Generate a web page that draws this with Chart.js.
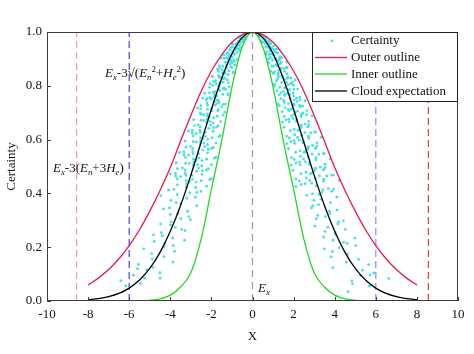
<!DOCTYPE html>
<html>
<head>
<meta charset="utf-8">
<script src="https://cdn.jsdelivr.net/npm/chart.js@4.4.0/dist/chart.umd.min.js"></script>
<style>
html,body{margin:0;padding:0;background:#ffffff;}
#wrap{width:474px;height:354px;position:relative;}
</style>
</head>
<body>
<div id="wrap"><canvas id="c" width="474" height="354"></canvas></div>
<script>
// ---------------- data ----------------
const curveX = [-8,-7.5,-7,-6.5,-6,-5.5,-5,-4.5,-4,-3.5,-3,-2.5,-2,-1.5,-1,-0.5,0,0.5,1,1.5,2,2.5,3,3.5,4,4.5,5,5.5,6,6.5,7,7.5,8];
const outerY = [0.060,0.085,0.117,0.157,0.206,0.265,0.334,0.411,0.496,0.595,0.690,0.780,0.855,0.915,0.962,0.990,1,0.990,0.962,0.915,0.855,0.780,0.690,0.595,0.496,0.411,0.334,0.265,0.206,0.157,0.117,0.085,0.060];
const innerY = [0,0,0,0,0.0002,0.0008,0.0027,0.008,0.022,0.052,0.105,0.230,0.415,0.595,0.795,0.945,1,0.945,0.795,0.595,0.415,0.230,0.105,0.052,0.022,0.008,0.0027,0.0008,0.0002,0,0,0,0];
const expectY = [0.005,0.009,0.016,0.028,0.048,0.078,0.121,0.181,0.259,0.355,0.468,0.590,0.713,0.827,0.919,0.979,1,0.979,0.919,0.827,0.713,0.590,0.468,0.355,0.259,0.181,0.121,0.078,0.048,0.028,0.016,0.009,0.005];

// cloud drops (x, certainty), left half
const certaintyLeft = [
[-0.342,0.983],[-0.583,0.976],[-0.422,0.981],[-0.623,0.978],[-0.492,0.984],[-0.372,0.975],[-0.543,0.982],
[-0.644,0.963],[-0.944,0.956],[-0.572,0.961],[-0.744,0.958],[-0.458,0.964],[-0.801,0.955],[-0.672,0.962],
[-1.056,0.943],[-0.686,0.936],[-0.880,0.941],[-0.757,0.938],[-1.003,0.944],[-0.845,0.935],[-0.598,0.942],
[-1.183,0.923],[-0.857,0.916],[-1.265,0.921],[-1.000,0.918],[-0.755,0.924],[-1.102,0.915],[-0.918,0.922],
[-1.515,0.903],[-0.918,0.896],[-1.193,0.901],[-0.734,0.898],[-1.285,0.904],[-1.079,0.895],[-1.377,0.902],
[-0.987,0.886],[-1.265,0.876],[-1.088,0.882],[-1.442,0.872],[-1.214,0.888],[-0.860,0.878],
[-1.592,0.866],[-1.153,0.856],[-1.702,0.862],[-1.345,0.852],[-1.016,0.868],[-1.482,0.858],
[-1.330,0.846],[-1.950,0.836],[-1.182,0.842],[-1.537,0.832],[-0.946,0.848],[-1.655,0.838],
[-1.481,0.826],[-1.890,0.816],[-1.229,0.822],[-1.575,0.812],[-1.355,0.828],[-1.796,0.818],
[-1.603,0.806],[-1.136,0.796],[-1.937,0.802],[-1.403,0.792],[-2.071,0.808],[-1.637,0.798],
[-1.304,0.786],[-1.904,0.776],[-1.586,0.782],[-2.327,0.772],[-1.410,0.788],[-1.833,0.778],
[-1.186,0.766],[-2.075,0.756],[-1.741,0.762],[-2.223,0.752],[-1.445,0.768],[-1.853,0.758],
[-1.668,0.746],[-2.212,0.736],[-1.862,0.742],[-1.319,0.732],[-2.250,0.748],[-1.630,0.738],
[-2.514,0.726],[-1.987,0.716],[-1.500,0.722],[-2.190,0.712],[-1.825,0.728],[-2.676,0.718],
[-1.690,0.706],[-2.197,0.696],[-1.352,0.702],[-2.366,0.692],[-1.986,0.708],[-2.535,0.698],
[-1.712,0.687],[-2.195,0.675],[-1.888,0.682],[-2.502,0.672],[-2.107,0.684],
[-1.550,0.667],[-2.645,0.655],[-1.915,0.662],[-2.827,0.652],[-2.234,0.664],
[-1.748,0.647],[-2.552,0.635],[-2.126,0.642],[-3.119,0.632],[-1.890,0.644],
[-2.543,0.627],[-1.565,0.615],[-2.738,0.622],[-2.298,0.612],[-2.934,0.624],
[-1.971,0.607],[-2.528,0.595],[-2.174,0.602],[-2.881,0.592],[-2.426,0.604],
[-1.775,0.587],[-3.028,0.575],[-2.192,0.582],[-3.236,0.572],[-2.558,0.584],
[-1.992,0.567],[-2.908,0.555],[-2.423,0.562],[-3.554,0.552],[-2.154,0.564],
[-2.886,0.547],[-1.776,0.535],[-3.108,0.542],[-2.609,0.532],[-3.330,0.544],
[-2.231,0.527],[-2.860,0.515],[-2.460,0.522],[-3.260,0.512],[-2.746,0.524],
[-2.001,0.507],[-3.413,0.495],[-2.472,0.502],[-3.649,0.492],[-2.884,0.504],
[-2.242,0.487],[-3.272,0.475],[-2.727,0.482],[-4.000,0.472],[-2.424,0.484],
[-3.240,0.467],[-1.994,0.455],[-3.489,0.462],[-2.928,0.452],[-3.738,0.464],
[-2.498,0.447],[-3.203,0.435],[-2.754,0.442],[-3.651,0.432],[-3.074,0.444],
[-2.239,0.427],[-3.819,0.415],[-2.766,0.422],[-4.083,0.412],[-3.227,0.424],
[-2.505,0.407],[-3.656,0.395],[-3.047,0.402],[-4.468,0.392],[-2.708,0.404],
[-2.782,0.386],[-3.964,0.374],[-3.199,0.382],
[-3.715,0.366],[-2.715,0.354],[-3.501,0.362],
[-4.040,0.346],[-3.158,0.334],[-4.334,0.342],
[-3.624,0.326],[-3.096,0.314],[-4.002,0.322],
[-3.492,0.306],[-3.958,0.294],[-3.026,0.302],
[-4.469,0.286],[-3.751,0.274],[-3.990,0.282],
[-3.446,0.266],[-4.431,0.254],[-3.282,0.262],
[-4.814,0.246],[-3.885,0.234],[-4.391,0.242],
[-3.306,0.226],[-4.263,0.214],[-4.785,0.222],
[-3.857,0.206],[-5.292,0.194],[-4.306,0.202],
[-3.797,0.185],[-4.908,0.176],
[-4.307,0.165],[-4.881,0.156],
[-3.867,0.145],[-5.552,0.136],
[-4.839,0.125],[-5.148,0.116],
[-4.507,0.105],[-5.794,0.096],
[-4.496,0.085],[-6.407,0.076],
[-5.456,0.065],[-6.167,0.056],
[-5.600,0.120],[-5.250,0.085]
];

const certaintyLeftMid = [
[-0.543,0.974],[-0.679,0.967],[-0.445,0.971],
[-0.976,0.954],[-0.768,0.947],[-0.640,0.951],
[-1.105,0.934],[-0.972,0.927],[-0.629,0.931],
[-1.389,0.914],[-0.998,0.907],[-1.150,0.911],
[-1.063,0.894],[-1.328,0.887],[-0.869,0.891],
[-1.610,0.874],[-1.267,0.867],[-1.056,0.871],
[-1.653,0.854],[-1.454,0.847],[-0.941,0.851],
[-1.952,0.834],[-1.403,0.827],[-1.617,0.831],
[-1.428,0.814],[-1.785,0.807],[-1.168,0.811],
[-2.095,0.794],[-1.649,0.787],[-1.374,0.791],
[-2.097,0.774],[-1.844,0.767],[-1.193,0.771],
[-2.429,0.754],[-1.746,0.747],[-2.011,0.751],
[-1.745,0.734],[-2.181,0.727],[-1.427,0.731],
[-2.525,0.714],[-1.987,0.707],[-1.656,0.711],
[-2.497,0.694],[-2.196,0.687],[-1.421,0.691],
[-2.864,0.674],[-2.059,0.667],[-2.372,0.671],
[-2.042,0.654],[-2.552,0.647],[-1.670,0.651],
[-2.931,0.634],[-2.306,0.627],[-1.922,0.631],
[-2.883,0.614],[-2.535,0.607],[-1.640,0.611],
[-3.286,0.594],[-2.362,0.587],[-2.722,0.591],
[-2.332,0.574],[-2.915,0.567],[-1.908,0.571],
[-3.334,0.554],[-2.623,0.547],[-2.186,0.551],
[-3.268,0.534],[-2.874,0.527],[-1.860,0.531],
[-3.712,0.514],[-2.668,0.507],[-3.074,0.511],
[-2.627,0.494],[-3.284,0.487],[-2.149,0.491],
[-3.748,0.474],[-2.950,0.467],[-2.458,0.471],
[-3.666,0.454],[-3.223,0.447],[-2.086,0.451]
];

// cloud drops (x, certainty), right half
const certaintyRight = [
[0.523,0.977],[0.322,0.984],[0.563,0.979],[0.472,0.982],[0.603,0.976],[0.392,0.985],[0.503,0.978],
[0.615,0.957],[0.815,0.964],[0.686,0.959],[0.486,0.962],[0.829,0.956],[0.601,0.965],[0.887,0.958],
[0.862,0.937],[0.651,0.944],[0.950,0.939],[0.792,0.942],[1.162,0.936],[0.704,0.945],[0.915,0.938],
[0.653,0.917],[1.142,0.924],[0.959,0.919],[1.224,0.922],[0.796,0.916],[1.020,0.925],[0.877,0.918],
[1.308,0.897],[1.102,0.904],[0.780,0.899],[1.331,0.902],[0.964,0.896],[1.423,0.905],[1.125,0.898],
[0.936,0.874],[1.366,0.884],[1.139,0.878],[1.670,0.888],[1.012,0.872],[1.316,0.882],
[0.878,0.854],[1.537,0.864],[1.290,0.858],[1.647,0.868],[1.071,0.852],[1.373,0.862],
[1.271,0.834],[1.684,0.844],[1.418,0.838],[1.005,0.848],[1.714,0.832],[1.241,0.842],
[1.953,0.814],[1.544,0.824],[1.166,0.818],[1.701,0.828],[1.418,0.812],[2.079,0.822],
[1.336,0.794],[1.737,0.804],[1.069,0.798],[1.870,0.808],[1.570,0.792],[2.004,0.802],
[1.375,0.774],[1.763,0.784],[1.516,0.778],[2.009,0.788],[1.692,0.772],[1.199,0.782],
[2.149,0.754],[1.556,0.764],[2.297,0.758],[1.815,0.768],[1.371,0.752],[2.001,0.762],
[1.746,0.734],[2.561,0.744],[1.552,0.738],[2.018,0.748],[1.242,0.732],[2.173,0.742],
[1.906,0.714],[2.433,0.724],[1.581,0.718],[2.028,0.728],[1.744,0.712],[2.311,0.722],
[2.028,0.694],[1.437,0.704],[2.451,0.698],[1.775,0.708],[2.620,0.692],[2.070,0.702],
[1.624,0.673],[2.371,0.685],[1.976,0.678],[2.897,0.688],[1.756,0.676],
[2.371,0.653],[1.459,0.665],[2.554,0.658],[2.143,0.668],[2.736,0.656],
[1.843,0.633],[2.363,0.645],[2.032,0.638],[2.693,0.648],[2.268,0.636],
[1.663,0.613],[2.836,0.625],[2.054,0.618],[3.032,0.628],[2.396,0.616],
[1.870,0.593],[2.730,0.605],[2.275,0.598],[3.336,0.608],[2.022,0.596],
[2.714,0.573],[1.670,0.585],[2.923,0.578],[2.453,0.588],[3.132,0.576],
[2.100,0.553],[2.693,0.565],[2.316,0.558],[3.069,0.568],[2.585,0.556],
[1.887,0.533],[3.219,0.545],[2.331,0.538],[3.441,0.548],[2.720,0.536],
[2.116,0.513],[3.089,0.525],[2.574,0.518],[3.775,0.528],[2.288,0.516],
[3.060,0.493],[1.883,0.505],[3.296,0.498],[2.766,0.508],[3.531,0.496],
[2.363,0.473],[3.030,0.485],[2.606,0.478],[3.454,0.488],[2.909,0.476],
[2.118,0.453],[3.613,0.465],[2.617,0.458],[3.863,0.468],[3.053,0.456],
[2.370,0.433],[3.459,0.445],[2.882,0.438],[4.227,0.448],[2.562,0.436],
[3.424,0.413],[2.107,0.425],[3.688,0.418],[3.095,0.428],[3.951,0.416],
[2.640,0.393],[3.385,0.405],[2.911,0.398],[3.859,0.408],[3.250,0.396],
[2.991,0.374],[4.103,0.386],[3.338,0.378],
[2.929,0.354],[3.787,0.366],[3.215,0.358],
[3.746,0.334],[2.865,0.346],[4.113,0.338],
[3.549,0.314],[3.775,0.326],[3.171,0.318],
[4.190,0.294],[3.104,0.306],[4.423,0.298],
[3.671,0.274],[4.150,0.286],[3.032,0.278],
[4.020,0.254],[4.513,0.266],[3.528,0.258],
[4.983,0.234],[4.054,0.246],[3.462,0.238],
[4.611,0.214],[3.915,0.226],[4.437,0.218],
[3.498,0.194],[5.023,0.206],[4.216,0.198],
[4.630,0.175],[3.889,0.184],
[5.168,0.155],[3.828,0.164],
[5.652,0.135],[4.561,0.144],
[5.353,0.115],[3.912,0.124],
[5.258,0.095],[5.902,0.104],
[4.833,0.075],[6.632,0.084],
[5.693,0.055],[4.863,0.064],
[4.650,0.035],[5.720,0.097]
];

const certaintyRightMid = [
[0.716,0.968],[0.630,0.973],[0.408,0.966],
[1.024,0.948],[0.736,0.953],[0.848,0.946],
[0.838,0.928],[1.048,0.933],[0.686,0.926],
[1.324,0.908],[1.042,0.913],[0.868,0.906],
[1.401,0.888],[1.232,0.893],[0.797,0.886],
[1.690,0.868],[1.214,0.873],[1.399,0.866],
[1.254,0.848],[1.568,0.853],[1.026,0.846],
[1.861,0.828],[1.464,0.833],[1.220,0.826],
[1.882,0.808],[1.655,0.813],[1.071,0.806],
[2.198,0.788],[1.580,0.793],[1.821,0.786],
[1.591,0.768],[1.988,0.773],[1.301,0.766],
[2.315,0.748],[1.822,0.753],[1.518,0.746],
[2.300,0.728],[2.022,0.733],[1.308,0.726],
[2.650,0.708],[1.904,0.713],[2.194,0.706],
[1.894,0.688],[2.368,0.693],[1.550,0.686],
[2.730,0.668],[2.148,0.673],[1.790,0.666],
[2.691,0.648],[2.366,0.653],[1.531,0.646],
[3.075,0.628],[2.210,0.633],[2.547,0.626],
[2.187,0.608],[2.734,0.613],[1.789,0.606],
[3.132,0.588],[2.465,0.593],[2.054,0.586],
[3.074,0.568],[2.703,0.573],[1.749,0.566],
[3.498,0.548],[2.514,0.553],[2.896,0.546],
[2.479,0.528],[3.099,0.533],[2.029,0.526],
[3.538,0.508],[2.784,0.513],[2.320,0.506],
[3.463,0.488],[3.045,0.493],[1.970,0.486],
[3.933,0.468],[2.827,0.473],[3.257,0.466],
[2.781,0.448],[3.476,0.453],[2.275,0.446]
];

const boundOuterX = [-8.56, 8.56];   // Ex ± 3(En+3He)
const boundInnerX = [-6, 6];         // Ex ± 3√(En²+He²)
const expectationX = 0;              // Ex
const xTicks = [-10,-8,-6,-4,-2,0,2,4,6,8,10];
const yTicks = [0,0.2,0.4,0.6,0.8,1.0];
const seriesNames = ['Certainty','Outer outline','Inner outline','Cloud expectation'];

// ---------------- build ----------------
const SERIF = '"Liberation Serif", "Times New Roman", serif';
const CYAN = '#45e0e6', RED = '#e8194b', GREEN = '#22d622', BLACK = '#000000';

function toPts(xs, ys){ return xs.map((x,i)=>({x:x, y:ys[i]})); }
function vLine(xv){ return [{x:xv,y:0},{x:xv,y:1}]; }
function pairPts(arr){ return arr.map(p=>({x:p[0], y:p[1]})); }

const lineBase = {showLine:true, pointRadius:0, borderWidth:1.3, fill:false, cubicInterpolationMode:'monotone'};
const guideBase = {showLine:true, pointRadius:0, borderWidth:1.2, fill:false, order:20};
const allDrops = certaintyLeft.concat(certaintyLeftMid, certaintyRight, certaintyRightMid);

const datasets = [
  Object.assign({label:seriesNames[3], data:toPts(curveX, expectY), borderColor:BLACK, order:1}, lineBase),
  Object.assign({label:seriesNames[1], data:toPts(curveX, outerY), borderColor:RED, order:2}, lineBase),
  Object.assign({label:seriesNames[2], data:toPts(curveX, innerY), borderColor:GREEN, order:3}, lineBase),
  {label:seriesNames[0], data:pairPts(allDrops), showLine:false,
   pointRadius:1.4, pointBorderWidth:0, backgroundColor:CYAN, borderColor:CYAN, order:10},
  Object.assign({label:'g1', data:vLine(boundOuterX[0]), borderColor:'#f39a9a', borderDash:[7,4]}, guideBase),
  Object.assign({label:'g2', data:vLine(boundOuterX[1]), borderColor:'#e83a3a', borderDash:[7,4]}, guideBase),
  Object.assign({label:'g3', data:vLine(boundInnerX[0]), borderColor:'#4444dd', borderDash:[7,4]}, guideBase),
  Object.assign({label:'g4', data:vLine(boundInnerX[1]), borderColor:'#8c8cee', borderDash:[7,4]}, guideBase),
  Object.assign({label:'g5', data:vLine(expectationX), borderColor:'#9a9a9a', borderDash:[7,5]}, guideBase)
];

function drawRich(ctx, parts, x, baseline, size){
  let cx = x;
  parts.forEach(p=>{
    const [txt, kind, ital] = p;
    let fs = size, dy = 0;
    if (kind==='sub'){ fs = size*0.68; dy = size*0.22; }
    if (kind==='sup'){ fs = size*0.68; dy = -size*0.38; }
    ctx.font = (ital?'italic ':'') + fs + 'px ' + SERIF;
    ctx.fillText(txt, cx, baseline+dy);
    cx += ctx.measureText(txt).width;
  });
}

const decor = {
  id:'decor',
  afterDraw(chart){
    const ctx = chart.ctx, a = chart.chartArea, xs = chart.scales.x, ys = chart.scales.y;
    ctx.save();
    ctx.strokeStyle = '#3c3c3c'; ctx.lineWidth = 1; ctx.setLineDash([]);
    ctx.strokeRect(Math.round(a.left)+0.5, Math.round(a.top)+0.5, Math.round(a.right-a.left)-1, Math.round(a.bottom-a.top)-1);
    ctx.beginPath();
    xTicks.forEach(v=>{ const px = Math.round(xs.getPixelForValue(v))+0.5; ctx.moveTo(px, a.bottom); ctx.lineTo(px, a.bottom-4); });
    yTicks.forEach(v=>{ const py = Math.round(ys.getPixelForValue(v))+0.5; ctx.moveTo(a.left, py); ctx.lineTo(a.left+4, py); });
    ctx.stroke();

    ctx.fillStyle = '#111';
    ctx.font = '13px ' + SERIF;
    ctx.textAlign = 'center'; ctx.textBaseline = 'middle';
    ctx.fillText('X', (a.left+a.right)/2, 337);
    ctx.save();
    ctx.translate(12, (a.top+a.bottom)/2);
    ctx.rotate(-Math.PI/2);
    ctx.fillText('Certainty', 0, 0);
    ctx.restore();

    ctx.textAlign = 'left'; ctx.textBaseline = 'alphabetic';
    drawRich(ctx, [['E','n',true],['x','sub',true],['-3√(','n',false],['E','n',true],['n','sub',true],['2','sup',false],['+','n',false],['H','n',true],['e','sub',true],['2','sup',false],[')','n',false]], 105, 77, 13);
    drawRich(ctx, [['E','n',true],['x','sub',true],['-3(','n',false],['E','n',true],['n','sub',true],['+3','n',false],['H','n',true],['e','sub',true],[')','n',false]], 53, 172, 13);
    drawRich(ctx, [['E','n',true],['x','sub',true]], 258, 292, 13);

    const lx = 312, ly = Math.round(a.top), lw = Math.round(a.right) - lx, lh = 70;
    ctx.fillStyle = '#ffffff';
    ctx.fillRect(lx, ly, lw, lh);
    ctx.strokeStyle = '#222'; ctx.lineWidth = 1;
    ctx.strokeRect(lx+0.5, ly+0.5, lw-1, lh-1);
    const rows = [40, 57.5, 74, 91];
    const cols = [CYAN, RED, GREEN, BLACK];
    ctx.font = '13px ' + SERIF; ctx.textBaseline = 'middle';
    rows.forEach((ry,i)=>{
      if (i===0){
        ctx.fillStyle = CYAN; ctx.beginPath(); ctx.arc(332, ry+1, 1.4, 0, Math.PI*2); ctx.fill();
      } else {
        ctx.strokeStyle = cols[i]; ctx.lineWidth = 1.3; ctx.beginPath();
        ctx.moveTo(315, ry); ctx.lineTo(347, ry); ctx.stroke();
      }
      ctx.fillStyle = '#111';
      ctx.fillText(seriesNames[i], 351, ry+0.5);
    });
    ctx.restore();
  }
};

new Chart(document.getElementById('c'), {
  type:'scatter',
  data:{datasets:datasets},
  options:{
    responsive:false, animation:false, devicePixelRatio:1,
    layout:{padding:{top:32, right:16, left:0, bottom:0}},
    plugins:{legend:{display:false}, tooltip:{enabled:false}},
    scales:{
      x:{type:'linear', min:-10, max:10,
         afterBuildTicks:(s)=>{ s.ticks = xTicks.map(v=>({value:v})); },
         afterFit:(s)=>{ s.height = 53; },
         grid:{display:false, drawTicks:false}, border:{display:false},
         ticks:{padding:6, color:'#111', font:{family:SERIF, size:13}, maxRotation:0, autoSkip:false,
                callback:(v)=>String(v)}},
      y:{type:'linear', min:0, max:1,
         afterBuildTicks:(s)=>{ s.ticks = yTicks.map(v=>({value:v})); },
         afterFit:(s)=>{ s.width = 47; },
         grid:{display:false, drawTicks:false}, border:{display:false},
         ticks:{padding:5, color:'#111', font:{family:SERIF, size:13}, autoSkip:false,
                callback:(v)=>Number(v).toFixed(1)}}
    }
  },
  plugins:[decor]
});
</script>
</body>
</html>
